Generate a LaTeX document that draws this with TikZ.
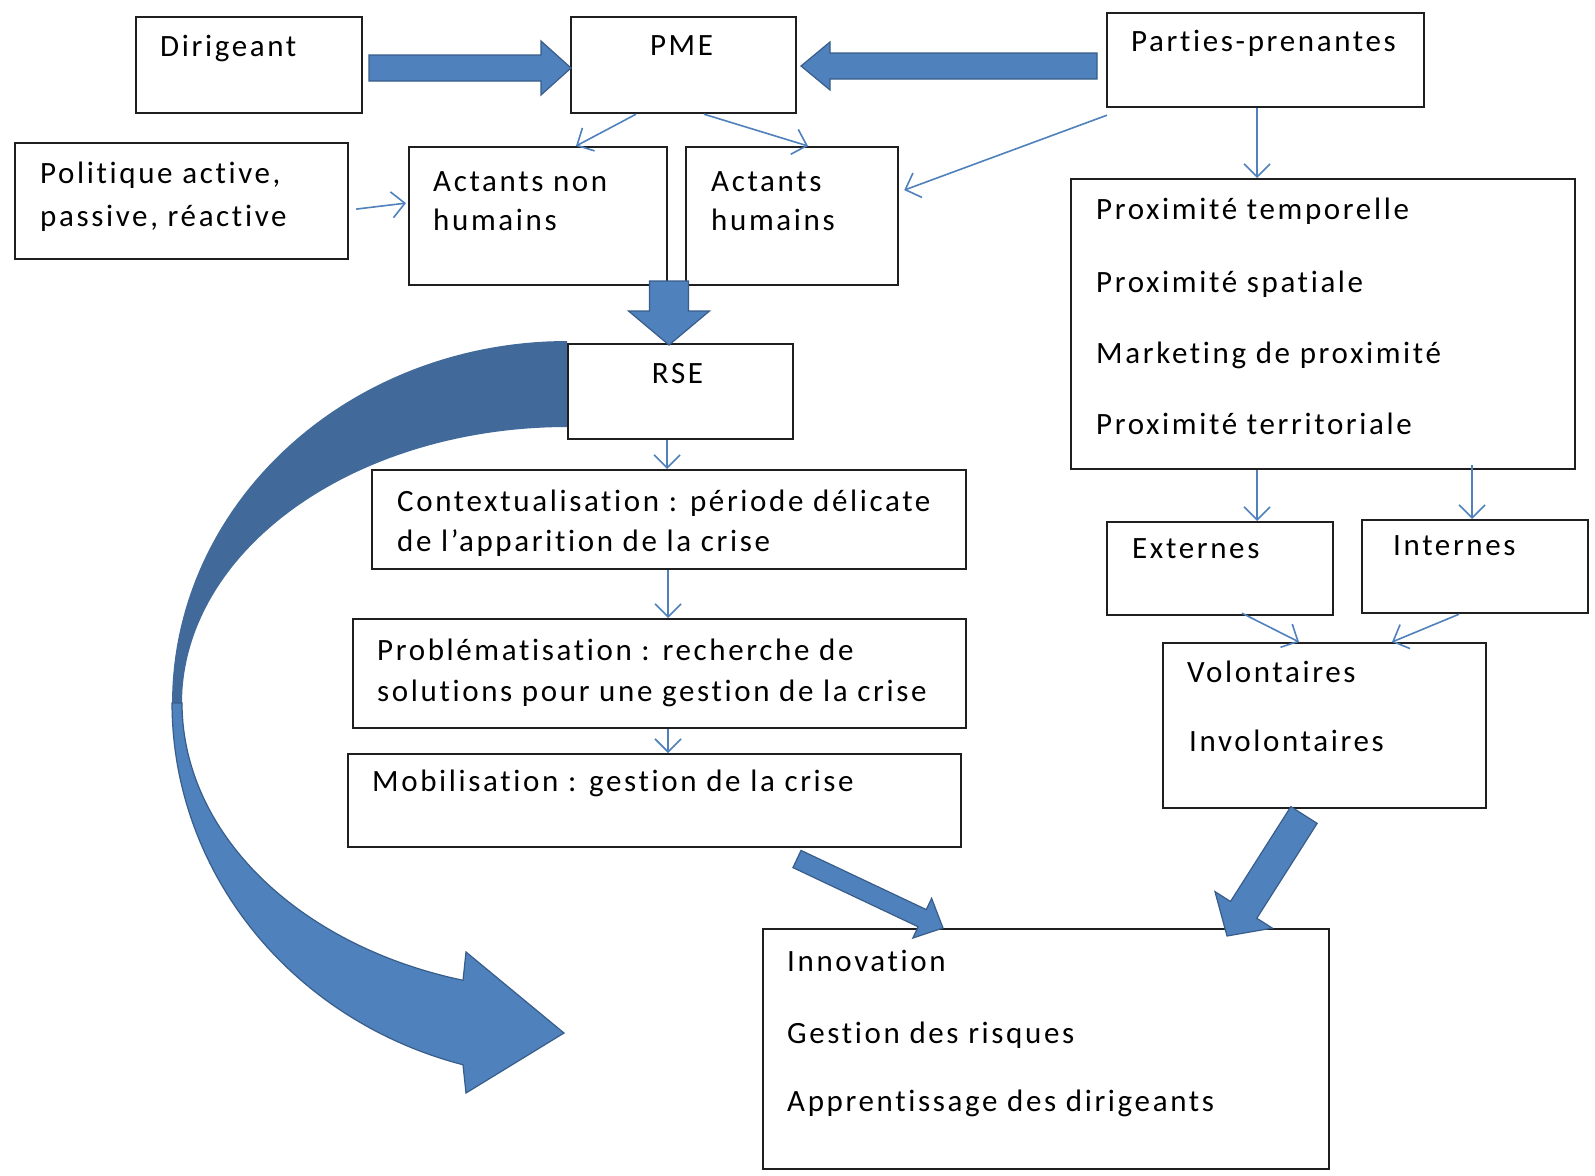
\documentclass[tikz,border=0pt]{standalone}
\usepackage{fontspec}
\setmainfont{Carlito}[LetterSpace=8.5, Ligatures=NoCommon]
\usetikzlibrary{arrows.meta,calc}
\definecolor{arrblue}{HTML}{4F81BD}
\definecolor{arredge}{HTML}{385D8A}
\definecolor{arrdark}{HTML}{41699A}
\definecolor{boxline}{HTML}{1F1F1F}
\tikzset{
  box/.style={draw=boxline, line width=2.2pt, fill=white, rectangle, inner sep=0pt, anchor=north west},
  txt/.style={anchor=base west, inner sep=0pt, font=\fontsize{31}{40}\selectfont, text=black},
  link/.style={draw=arrblue, line width=1.6pt, -{Straight Barb[length=13pt,width=26pt]}},
  blockarrow/.style={fill=arrblue, draw=arredge, line width=1.2pt, line join=miter},
}
\newcommand{\barrow}[5]{%
  \coordinate (bh) at ($(#2)!#5!(#1)$);
  \filldraw[blockarrow] ($(#1)!#3!90:(#2)$) -- ($(bh)!#3!-90:(#1)$) -- ($(bh)!#4!-90:(#1)$) -- (#2)
    -- ($(bh)!#4!90:(#1)$) -- ($(bh)!#3!90:(#1)$) -- ($(#1)!#3!-90:(#2)$) -- cycle;
}
\begin{document}
\begin{tikzpicture}[x=1pt,y=-1pt]
\useasboundingbox (0,0) rectangle (1595,1175);
\fill[white] (0,0) rectangle (1595,1175);

% big curved arrow (back part, then front part)
\fill[arrdark] plot[domain=90:180, samples=60] ({567+395*cos(\x)},{703-362*sin(\x)})
  -- plot[domain=180:90, samples=60] ({567+385*cos(\x)},{703-276*sin(\x)}) -- cycle;
\filldraw[blockarrow] plot[domain=180:254.73, samples=60] ({567+395*cos(\x)},{703-375*sin(\x)})
  -- (466,1093) -- (564,1033) -- (466,952)
  -- plot[domain=254.33:180, samples=60] ({567+385*cos(\x)},{703-288*sin(\x)}) -- cycle;

% boxes
\node[box, minimum width=226pt, minimum height=96pt]  (dir)  at (135,16)   {};
\node[box, minimum width=225pt, minimum height=96pt]  (pme)  at (570,16)   {};
\node[box, minimum width=317pt, minimum height=94pt]  (pp)   at (1106,12)  {};
\node[box, minimum width=333pt, minimum height=116pt] (pol)  at (14,142)   {};
\node[box, minimum width=258pt, minimum height=138pt] (anh)  at (408,146)  {};
\node[box, minimum width=212pt, minimum height=138pt] (ah)   at (685,146)  {};
\node[box, minimum width=225pt, minimum height=95pt]  (rse)  at (567,343)  {};
\node[box, minimum width=594pt, minimum height=99pt]  (ctx)  at (371,469)  {};
\node[box, minimum width=613pt, minimum height=109pt] (prob) at (352,618)  {};
\node[box, minimum width=613pt, minimum height=93pt]  (mob)  at (347,753)  {};
\node[box, minimum width=504pt, minimum height=290pt] (prox) at (1070,178) {};
\node[box, minimum width=226pt, minimum height=93pt]  (ext)  at (1106,521) {};
\node[box, minimum width=226pt, minimum height=93pt]  (int)  at (1361,519) {};
\node[box, minimum width=323pt, minimum height=165pt] (vol)  at (1162,642) {};
\node[box, minimum width=566pt, minimum height=240pt] (inn)  at (762,928)  {};

% texts
\node[txt] (dirt) at (160,56) {Dirigeant};
\node[txt, anchor=base] (pmet) at (681.5,55) {PME};
\node[txt] (ppt) at (1131,51) {Parties-prenantes};
\node[txt] (polt1) at (40,183) {Politique active,};
\node[txt] (polt2) at (40,226) {passive, réactive};
\node[txt] (anht1) at (433,191) {Actants non};
\node[txt] (anht2) at (433,230) {humains};
\node[txt] (aht1) at (711,191) {Actants};
\node[txt] (aht2) at (711,230) {humains};
\node[txt, anchor=base] (rset) at (677.5,383) {RSE};
\node[txt] (ctxt1) at (397,511.7) {Contextualisation : période délicate};
\node[txt] (ctxt2) at (397,551.7) {de l’apparition de la crise};
\node[txt] (probt1) at (377,660) {Problématisation : recherche de};
\node[txt] (probt2) at (377,701.7) {solutions pour une gestion de la crise};
\node[txt] (mobt) at (372,791.7) {Mobilisation : gestion de la crise};
\node[txt] (proxt1) at (1096,219) {Proximité temporelle};
\node[txt] (proxt2) at (1096,292) {Proximité spatiale};
\node[txt] (proxt3) at (1096,363.5) {Marketing de proximité};
\node[txt] (proxt4) at (1096,434.5) {Proximité territoriale};
\node[txt] (extt) at (1132,558) {Externes};
\node[txt] (intt) at (1393,555) {Internes};
\node[txt] (volt1) at (1187,682.7) {Volontaires};
\node[txt] (volt2) at (1189,751.7) {Involontaires};
\node[txt] (innt1) at (787,971.7) {Innovation};
\node[txt] (innt2) at (787,1043) {Gestion des risques};
\node[txt] (innt3) at (787,1111.7) {Apprentissage des dirigeants};

% thin connectors
\draw[link] ([xshift=66pt]pme.south west) -- ([xshift=168pt]anh.north west);
\draw[link] ([xshift=134pt]pme.south west) -- ([xshift=123pt]ah.north west);
\draw[link] ([xshift=7pt,yshift=-8pt]pol.east) -- ([xshift=-2pt,yshift=13pt]anh.west);
\draw[link] ([xshift=1pt,yshift=-7pt]pp.south west) -- ([xshift=5pt,yshift=26pt]ah.east);
\draw[link] ([xshift=151pt]pp.south west) -- ([xshift=187pt]prox.north west);
\draw[link] ([xshift=100pt]rse.south west) -- ([xshift=296pt]ctx.north west);
\draw[link] ([xshift=297pt]ctx.south west) -- ([xshift=316pt]prob.north west);
\draw[link] ([xshift=316pt]prob.south west) -- ([xshift=321pt]mob.north west);
\draw[link] ([xshift=187pt]prox.south west) -- ([xshift=151pt]ext.north west);
\draw[link] ([xshift=402pt,yshift=5pt]prox.south west) -- ([xshift=111pt]int.north west);
\draw[link] ([xshift=136pt,yshift=3pt]ext.south west) -- ([xshift=137pt]vol.north west);
\draw[link] ([xshift=98pt]int.south west) -- ([xshift=230pt]vol.north west);

% block arrows
\coordinate (b1s) at (369,68);   \coordinate (b1e) at (571,68);
\coordinate (b2s) at (1097,66);  \coordinate (b2e) at (801,66);
\coordinate (b3s) at (669,281);  \coordinate (b3e) at (669,345);
\coordinate (b4s) at (797,859);  \coordinate (b4e) at (943,928);
\coordinate (b5s) at (1304,815); \coordinate (b5e) at (1227,936);
\barrow{b1s}{b1e}{13pt}{27pt}{30pt}
\barrow{b2s}{b2e}{13pt}{24pt}{29pt}
\barrow{b3s}{b3e}{19.5pt}{40.5pt}{34pt}
\barrow{b4s}{b4e}{9.5pt}{22pt}{23pt}
\barrow{b5s}{b5e}{15.6pt}{34pt}{31pt}
\end{tikzpicture}
\end{document}
